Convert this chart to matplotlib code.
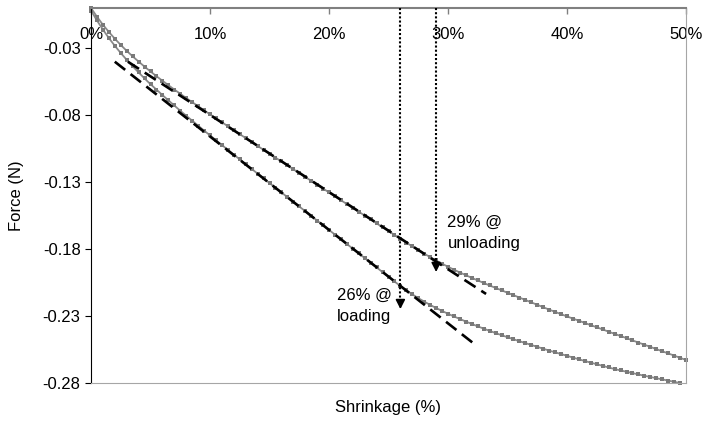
import numpy as np
import matplotlib
matplotlib.use("Agg")
import matplotlib.pyplot as plt

plt.rcParams["font.family"] = ["Liberation Sans", "DejaVu Sans"]
plt.rcParams["font.size"] = 12

# Force readings (N), sampled every 0.5 % of shrinkage
shrinkage_step = 0.5
force_unloading = [
    0.0000, -0.0065, -0.0125, -0.0179, -0.0229, -0.0276, -0.0320, -0.0361, -0.0400, -0.0438,
    -0.0474, -0.0509, -0.0543, -0.0576, -0.0609, -0.0640, -0.0672, -0.0703, -0.0733, -0.0764,
    -0.0794, -0.0824, -0.0853, -0.0883, -0.0912, -0.0942, -0.0971, -0.1000, -0.1030, -0.1059,
    -0.1088, -0.1117, -0.1146, -0.1175, -0.1204, -0.1233, -0.1262, -0.1290, -0.1319, -0.1348,
    -0.1377, -0.1406, -0.1435, -0.1464, -0.1492, -0.1521, -0.1550, -0.1579, -0.1608, -0.1637,
    -0.1666, -0.1694, -0.1723, -0.1752, -0.1780, -0.1807, -0.1834, -0.1860, -0.1885, -0.1909,
    -0.1932, -0.1954, -0.1975, -0.1995, -0.2015, -0.2034, -0.2053, -0.2072, -0.2090, -0.2108,
    -0.2126, -0.2144, -0.2162, -0.2180, -0.2198, -0.2216, -0.2234, -0.2252, -0.2269, -0.2286,
    -0.2303, -0.2319, -0.2335, -0.2352, -0.2368, -0.2384, -0.2400, -0.2417, -0.2433, -0.2449,
    -0.2465, -0.2482, -0.2498, -0.2514, -0.2530, -0.2547, -0.2563, -0.2579, -0.2595, -0.2612,
    -0.2628,
]
force_loading = [
    -0.0019, -0.0093, -0.0161, -0.0224, -0.0282, -0.0336, -0.0387, -0.0435, -0.0481, -0.0526,
    -0.0569, -0.0609, -0.0650, -0.0689, -0.0728, -0.0767, -0.0804, -0.0841, -0.0878, -0.0915,
    -0.0951, -0.0987, -0.1023, -0.1059, -0.1095, -0.1130, -0.1166, -0.1201, -0.1237, -0.1272,
    -0.1307, -0.1342, -0.1377, -0.1412, -0.1447, -0.1482, -0.1517, -0.1552, -0.1587, -0.1622,
    -0.1657, -0.1692, -0.1727, -0.1762, -0.1797, -0.1832, -0.1867, -0.1902, -0.1937, -0.1972,
    -0.2007, -0.2042, -0.2076, -0.2108, -0.2138, -0.2166, -0.2192, -0.2217, -0.2240, -0.2262,
    -0.2283, -0.2303, -0.2322, -0.2341, -0.2359, -0.2377, -0.2394, -0.2411, -0.2427, -0.2443,
    -0.2458, -0.2473, -0.2488, -0.2502, -0.2516, -0.2530, -0.2544, -0.2558, -0.2571, -0.2584,
    -0.2597, -0.2610, -0.2623, -0.2636, -0.2648, -0.2660, -0.2672, -0.2684, -0.2696, -0.2706,
    -0.2716, -0.2726, -0.2736, -0.2746, -0.2755, -0.2764, -0.2773, -0.2782, -0.2791, -0.2800,
]

# Linear fits of the initial (straight) portions
unloading_fit_x = [3.1, 33.2]
unloading_fit_y = [-0.0401, -0.2135]
loading_fit_x = [2.0, 32.1]
loading_fit_y = [-0.0401, -0.2501]

# Onset of non-linearity (%), and where each marker arrow stops (N)
loading_onset = 26
loading_arrow_end = -0.2248
unloading_onset = 29
unloading_arrow_end = -0.1971

x_ticks = [0, 10, 20, 30, 40, 50]
x_tick_labels = ["0%", "10%", "20%", "30%", "40%", "50%"]
y_ticks = [-0.28, -0.23, -0.18, -0.13, -0.08, -0.03]
y_tick_labels = ["-0.28", "-0.23", "-0.18", "-0.13", "-0.08", "-0.03"]

W, H = 704, 423
fig = plt.figure(figsize=(W / 100, H / 100), dpi=100)
ax = fig.add_axes([91 / W, 1 - 383 / H, 595 / W, 375 / H])

x_unload = np.arange(len(force_unloading)) * shrinkage_step
x_load = np.arange(len(force_loading)) * shrinkage_step

curve_style = dict(color="#8a8a8a", lw=1.3, marker="s", markersize=2.6,
                   markeredgewidth=0, markerfacecolor="#7a7a7a", clip_on=False, zorder=2)
ax.plot(x_unload, force_unloading, **curve_style)
ax.plot(x_load, force_loading, **curve_style)

fit_style = dict(color="black", lw=1.9, dashes=(5.0, 2.6), zorder=3)
ax.plot(unloading_fit_x, unloading_fit_y, **fit_style)
ax.plot(loading_fit_x, loading_fit_y, **fit_style)

# Dotted onset markers with arrowheads
for xo, yend in [(loading_onset, loading_arrow_end), (unloading_onset, unloading_arrow_end)]:
    ax.plot([xo, xo], [0, yend + 0.004], color="black", lw=1.5, dashes=(1, 1),
            solid_capstyle="butt", dash_capstyle="butt", zorder=4, clip_on=False)
    ax.annotate("", xy=(xo, yend), xytext=(xo, yend + 0.006),
                arrowprops=dict(arrowstyle="-|>,head_length=0.55,head_width=0.28",
                                color="black", lw=1.2, shrinkA=0, shrinkB=0,
                                mutation_scale=10),
                zorder=4)

ax.text(unloading_onset + 0.95, -0.1548, "29% @\nunloading", ha="left", va="top",
        linespacing=1.45, fontsize=12)
ax.text(loading_onset - 5.3, -0.2093, "26% @\nloading", ha="left", va="top",
        linespacing=1.45, fontsize=12)

ax.set_xlim(0, 50)
ax.set_ylim(-0.28, 0)
ax.set_xticks(x_ticks)
ax.set_xticklabels(x_tick_labels)
ax.set_yticks(y_ticks)
ax.set_yticklabels(y_tick_labels)

ax.tick_params(axis="x", bottom=False, top=True, labelbottom=False, labeltop=True,
               direction="in", length=4, width=1, color="#808080", pad=-24.5,
               labelsize=12)
ax.tick_params(axis="y", direction="out", length=4, width=0.8, color="black", pad=3.5,
               labelsize=12)

ax.spines["left"].set_color("black")
ax.spines["left"].set_linewidth(0.8)
ax.spines["top"].set_color("#808080")
ax.spines["top"].set_linewidth(1.5)
ax.spines["right"].set_color("#a6a6a6")
ax.spines["right"].set_linewidth(0.8)
ax.spines["bottom"].set_color("#a6a6a6")
ax.spines["bottom"].set_linewidth(0.8)

ax.set_ylabel("Force (N)", fontsize=12)
ax.yaxis.set_label_coords(-0.113, 0.5)
ax.set_xlabel("Shrinkage (%)", fontsize=12)
ax.xaxis.set_label_position("bottom")
ax.xaxis.set_label_coords(0.499, -0.045)

fig.savefig("out.png", dpi=100)
